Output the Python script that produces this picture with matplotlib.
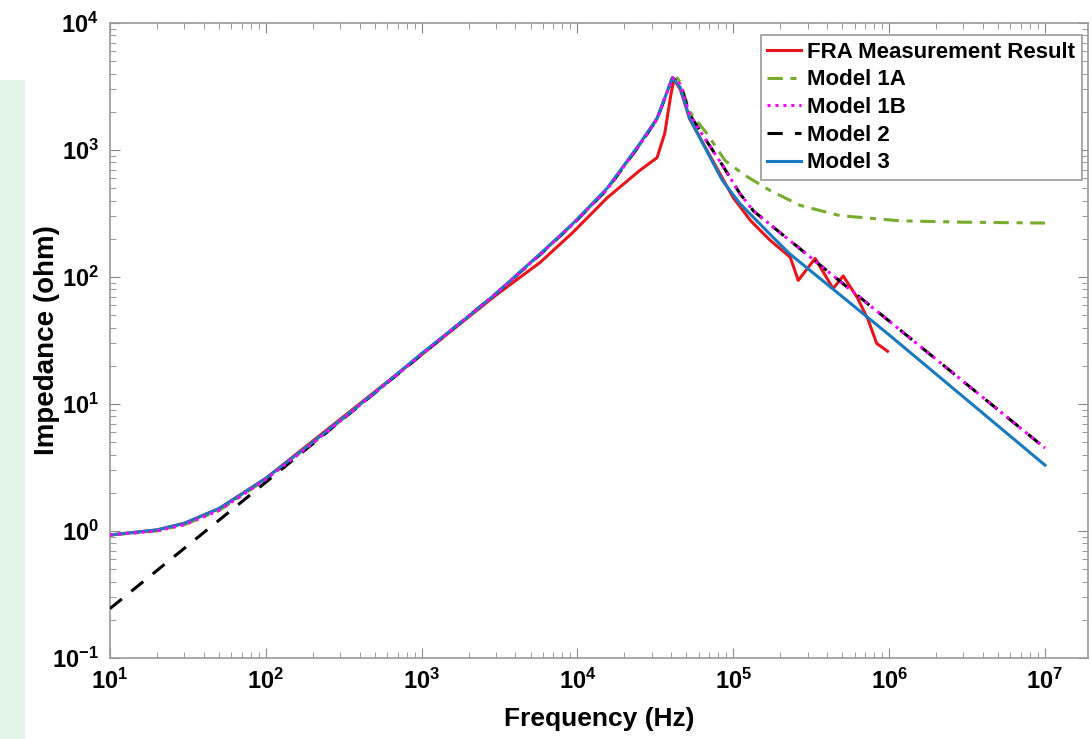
import matplotlib
matplotlib.use("Agg")
import matplotlib.pyplot as plt
from matplotlib.patches import Rectangle

# FRA measurement (red)
fra_f = [10, 20, 30, 50, 100, 1000, 3000, 5750, 9330, 15500, 25100, 32400,
         36300, 39800, 41700, 45700, 52500, 67600, 85100, 100000, 130000,
         172000, 232000, 261000, 335000, 437000, 507000, 624000, 733000,
         832000, 977000]
fra_z = [0.93, 1.02, 1.15, 1.5, 2.6, 24.5, 72, 130, 224, 420, 690, 870,
         1350, 2750, 3600, 3000, 1750, 1000, 600, 420, 275,
         195, 143, 94, 140, 81, 102, 69, 46, 30, 26]

# Model 1A (green)
m1a_f = [10, 20, 30, 50, 70, 100, 200, 500, 1000, 3000, 5750, 9330, 15500,
         25100, 32400, 41700, 45700, 52500, 67600, 88500, 119000, 172000,
         269000, 484000, 1170000, 3e6, 1e7]
m1a_z = [0.93, 1.0, 1.12, 1.45, 1.9, 2.55, 4.9, 12.2, 24.5, 74, 150, 260, 490,
         1100, 1750, 4000, 3400, 2000, 1350, 825, 630, 480,
         366, 304, 277, 270, 266]

# Model 1B (magenta)
m1b_f = [10, 20, 30, 50, 70, 100, 200, 500, 1000, 3000, 5750, 9330, 15500,
         25100, 32400, 40700, 45700, 52500, 67600, 85100, 110000, 135000,
         229000, 1e6, 1e7]
m1b_z = [0.93, 1.0, 1.12, 1.45, 1.9, 2.55, 4.9, 12.2, 24.5, 74, 150, 260, 490,
         1100, 1750, 3700, 3300, 1900, 1170, 760, 455, 330,
         195, 45, 4.5]

# Model 2 (black)
m2_f = [10, 100, 1000, 3000, 5750, 9330, 15500, 25100, 32400, 40700, 45700,
        52500, 67600, 85100, 110000, 135000, 229000, 1e6, 1e7]
m2_z = [0.245, 2.42, 24.5, 74, 150, 260, 490, 1100, 1750, 3700, 3300,
        1900, 1170, 760, 455, 330, 195, 45, 4.5]

# Model 3 (blue)
m3_f = [10, 20, 30, 50, 70, 100, 200, 500, 1000, 2000, 3000, 5750, 9330,
        15500, 25100, 32400, 40700, 45700, 52500, 67600, 85100, 110000,
        180000, 229000, 1e6, 1e7]
m3_z = [0.93, 1.02, 1.15, 1.5, 1.95, 2.6, 5.0, 12.3, 25, 49, 74, 152, 263,
        500, 1120, 1780, 3700, 3100, 1780, 980, 575, 380,
        205, 153, 35, 3.3]

labels = ["FRA Measurement Result", "Model 1A", "Model 1B", "Model 2", "Model 3"]
x_ticks = [1e1, 1e2, 1e3, 1e4, 1e5, 1e6, 1e7]
y_ticks = [1e-1, 1e0, 1e1, 1e2, 1e3, 1e4]

plt.rcParams["font.family"] = ["Liberation Sans", "DejaVu Sans"]

fig = plt.figure(figsize=(10.91, 7.39), dpi=100)
# pale green strip on the left edge of the scanned page
fig.patches.append(Rectangle((0, 0), 25 / 1091, 1 - 80 / 739, transform=fig.transFigure,
                             facecolor="#e3f4e9", edgecolor="none", zorder=-5))
ax = fig.add_axes([0.1008, 0.1096, 0.8965, 0.8593])

ax.plot(fra_f, fra_z, color="#e8161b", lw=2.2, label=labels[0], zorder=3)
ax.plot(m1a_f, m1a_z, color="#77ac30", lw=2.2, ls=(0, (5, 2.5, 2, 2.5)), label=labels[1], zorder=2)
ax.plot(m1b_f, m1b_z, color="#ff00ff", lw=2.2, ls=(0, (1, 1.6)), label=labels[2], zorder=4)
ax.plot(m2_f, m2_z, color="black", lw=2.2, ls=(0, (5, 4)), label=labels[3], zorder=3)
ax.plot(m3_f, m3_z, color="#1a7abf", lw=2.2, label=labels[4], zorder=3)

ax.set_xscale("log")
ax.set_yscale("log")
ax.set_xticks(x_ticks)
ax.set_yticks(y_ticks)
ax.set_xlim(10, 1.89e7)
ax.set_ylim(0.1, 1e4)

ax.tick_params(which="both", direction="in", top=True, right=True, color="#888888")
ax.tick_params(which="major", length=7, labelsize=17, pad=8)
ax.tick_params(which="minor", length=4)
for lab in ax.get_xticklabels() + ax.get_yticklabels():
    lab.set_fontweight("bold")
for sp in ax.spines.values():
    sp.set_color("#999999")
    sp.set_linewidth(1.2)

ax.set_xlabel("Frequency (Hz)", fontsize=19, fontweight="bold")
ax.set_ylabel("Impedance (ohm)", fontsize=20, fontweight="bold")
ax.xaxis.set_label_coords(0.5, -0.077)
ax.yaxis.set_label_coords(-0.051, 0.5)

leg = ax.legend(loc="upper right", bbox_to_anchor=(1 - 6 / 978, 1 - 12 / 635),
                prop={"weight": "bold", "size": 16},
                handlelength=1.5, handletextpad=0.3, labelspacing=0.3,
                borderpad=0.3, borderaxespad=0, fancybox=False, framealpha=1)
leg.get_frame().set_edgecolor("#999999")
leg.get_frame().set_linewidth(1.2)

fig.savefig("out.png", dpi=100)
